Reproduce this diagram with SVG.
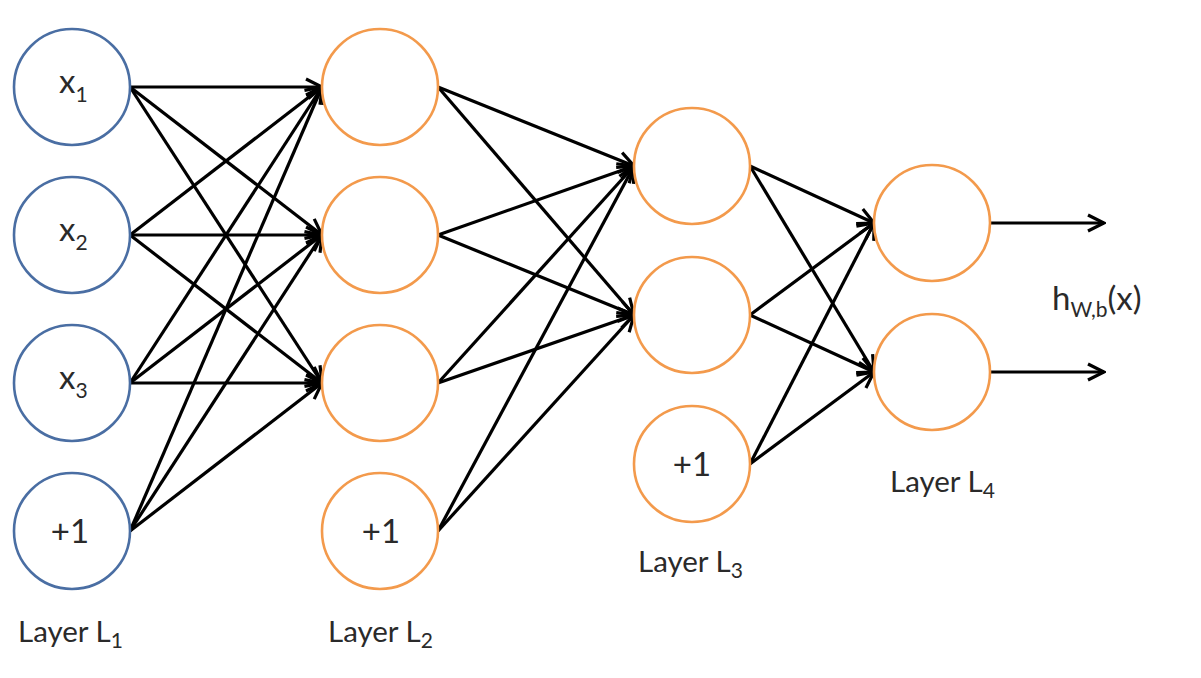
<svg xmlns="http://www.w3.org/2000/svg" width="1201" height="678" viewBox="0 0 1201 678">
<defs>
<marker id="arr" viewBox="0 0 20 20" refX="18" refY="10" markerWidth="20" markerHeight="20" markerUnits="userSpaceOnUse" orient="auto">
<path d="M2,2 L18,10 L2,18" fill="none" stroke="#000" stroke-width="3.2"/>
</marker>
<style>
.in{fill:#fff;stroke:#4a6ea3;stroke-width:2.6}
.hid{fill:#fff;stroke:#f39a4c;stroke-width:2.6}
.t{font-family:Lato,"Liberation Sans",sans-serif;fill:#2a2a2a;font-size:33px}
.lab{font-family:Lato,"Liberation Sans",sans-serif;fill:#2a2a2a;font-size:29.5px}
.sub{font-size:21px}
#edges line{stroke:#000;stroke-width:3.2;marker-end:url(#arr)}
</style>
</defs>
<rect width="1201" height="678" fill="#fff"/>
<g id="edges">
<line x1="130" y1="87" x2="322" y2="87"/>
<line x1="130" y1="87" x2="322" y2="235"/>
<line x1="130" y1="87" x2="322" y2="383"/>
<line x1="130" y1="235" x2="322" y2="87"/>
<line x1="130" y1="235" x2="322" y2="235"/>
<line x1="130" y1="235" x2="322" y2="383"/>
<line x1="130" y1="383" x2="322" y2="87"/>
<line x1="130" y1="383" x2="322" y2="235"/>
<line x1="130" y1="383" x2="322" y2="383"/>
<line x1="130" y1="531" x2="322" y2="87"/>
<line x1="130" y1="531" x2="322" y2="235"/>
<line x1="130" y1="531" x2="322" y2="383"/>
<line x1="438" y1="87" x2="634" y2="166"/>
<line x1="438" y1="87" x2="634" y2="315"/>
<line x1="438" y1="235" x2="634" y2="166"/>
<line x1="438" y1="235" x2="634" y2="315"/>
<line x1="438" y1="383" x2="634" y2="166"/>
<line x1="438" y1="383" x2="634" y2="315"/>
<line x1="438" y1="531" x2="634" y2="166"/>
<line x1="438" y1="531" x2="634" y2="315"/>
<line x1="750" y1="166" x2="874" y2="223"/>
<line x1="750" y1="166" x2="874" y2="372"/>
<line x1="750" y1="315" x2="874" y2="223"/>
<line x1="750" y1="315" x2="874" y2="372"/>
<line x1="750" y1="464" x2="874" y2="223"/>
<line x1="750" y1="464" x2="874" y2="372"/>
<line x1="990" y1="223" x2="1104" y2="223"/>
<line x1="990" y1="372" x2="1104" y2="372"/>
</g>
<g id="l1n1"><circle class="in" cx="72" cy="87" r="58"/><text class="t" x="59" y="93">x<tspan class="sub" dy="9">1</tspan></text></g>
<g id="l1n2"><circle class="in" cx="72" cy="235" r="58"/><text class="t" x="59" y="241">x<tspan class="sub" dy="9">2</tspan></text></g>
<g id="l1n3"><circle class="in" cx="72" cy="383" r="58"/><text class="t" x="59" y="389">x<tspan class="sub" dy="9">3</tspan></text></g>
<g id="l1b"><circle class="in" cx="72" cy="531" r="58"/><text class="t" x="70" y="543" text-anchor="middle">+1</text></g>
<g id="l2n1"><circle class="hid" cx="380" cy="87" r="58"/></g>
<g id="l2n2"><circle class="hid" cx="380" cy="235" r="58"/></g>
<g id="l2n3"><circle class="hid" cx="380" cy="383" r="58"/></g>
<g id="l2b"><circle class="hid" cx="380" cy="531" r="58"/><text class="t" x="381" y="543" text-anchor="middle">+1</text></g>
<g id="l3n1"><circle class="hid" cx="692" cy="166" r="58"/></g>
<g id="l3n2"><circle class="hid" cx="692" cy="315" r="58"/></g>
<g id="l3b"><circle class="hid" cx="692" cy="464" r="58"/><text class="t" x="692" y="476" text-anchor="middle">+1</text></g>
<g id="l4n1"><circle class="hid" cx="932" cy="223" r="58"/></g>
<g id="l4n2"><circle class="hid" cx="932" cy="372" r="58"/></g>
<g id="labels">
<text class="lab" x="18" y="642">Layer L<tspan class="sub" dy="6">1</tspan></text>
<text class="lab" x="328" y="642">Layer L<tspan class="sub" dy="6">2</tspan></text>
<text class="lab" x="638" y="572">Layer L<tspan class="sub" dy="6">3</tspan></text>
<text class="lab" x="890" y="492">Layer L<tspan class="sub" dy="6">4</tspan></text>
<text class="t" x="1052" y="310">h<tspan class="sub" dy="7">W,b</tspan><tspan dy="-7">(x)</tspan></text>
</g>
</svg>
